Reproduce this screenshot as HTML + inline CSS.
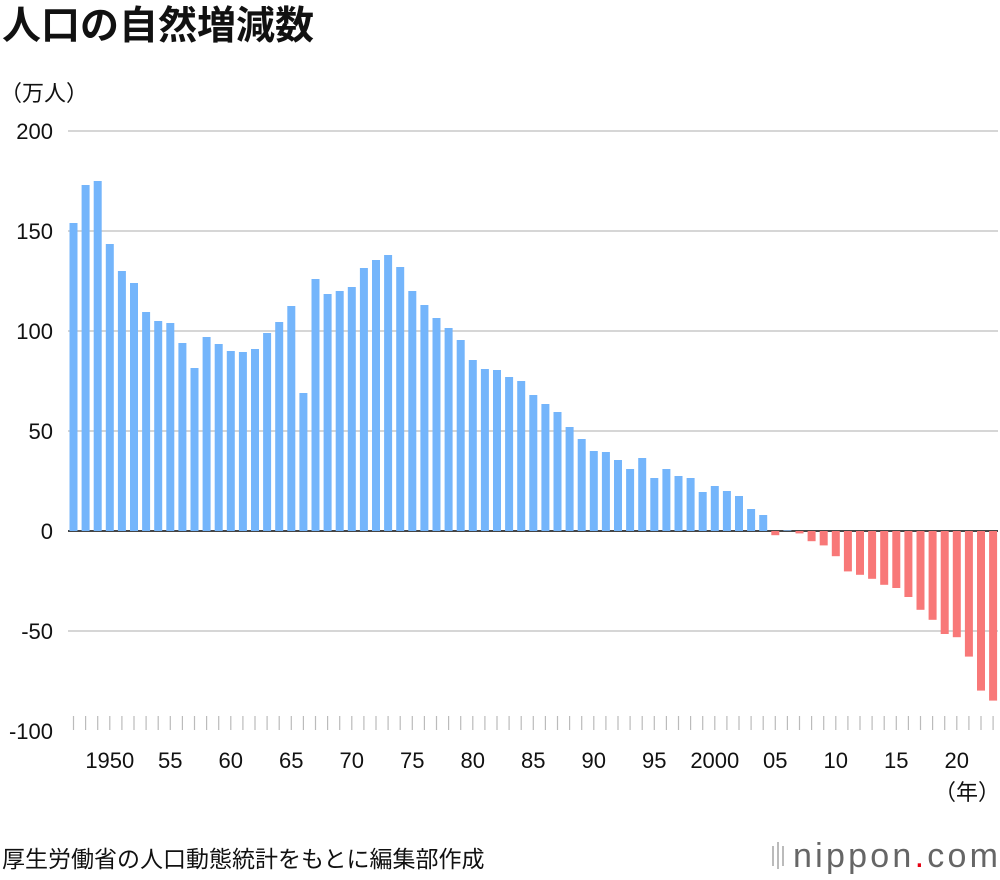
<!DOCTYPE html>
<html><head><meta charset="utf-8"><style>
body{margin:0;width:1000px;height:880px;background:#fff;font-family:"Liberation Sans","Noto Sans CJK JP",sans-serif;overflow:hidden}
</style></head><body>
<svg id="chart" width="1000" height="880" style="position:absolute;left:0;top:0">
<text x="2" y="39" font-size="39" font-weight="bold" fill="#111" font-family="Liberation Sans, Noto Sans CJK JP, sans-serif">人口の自然増減数</text>
<text x="0" y="101" font-size="22" fill="#111" font-family="Liberation Sans, Noto Sans CJK JP, sans-serif">（万人）</text>
<g id="grid"></g><g id="bars"></g><g id="ticks"></g>
<text x="1000" y="800" font-size="22" text-anchor="end" fill="#111" font-family="Liberation Sans, Noto Sans CJK JP, sans-serif">（年）</text>
<text x="2" y="867" font-size="23" fill="#111" font-family="Liberation Sans, Noto Sans CJK JP, sans-serif">厚生労働省の人口動態統計をもとに編集部作成</text>
<g>
<rect x="772" y="846" width="2" height="20" fill="#bbb"/><rect x="777" y="842" width="2" height="27" fill="#bbb"/><rect x="782" y="846" width="2" height="20" fill="#bbb"/>
<text x="793" y="867" font-size="34" fill="#666" font-family="Liberation Sans, sans-serif" textLength="205">nippon<tspan fill="#e60012">.</tspan>com</text>
</g>
</svg>
<script>
const years=[];for(let y=1947;y<=2023;y++)years.push(y);
const values=[154,173,175,143.5,130,124,109.5,105,104,94,81.5,97,93.5,90,89.5,91,99,104.5,112.5,69,126,118.5,120,122,131.5,135.5,138,132,120,113,106.5,101.5,95.5,85.5,81,80.5,77,75,68,63.5,59.5,52,46,40,39.5,35.5,31,36.5,26.5,31,27.5,26.5,19.5,22.5,20,17.5,11,8,-2.1,0.3,-1.2,-5.1,-7.2,-12.6,-20.2,-21.9,-23.9,-26.9,-28.5,-33,-39.4,-44.4,-51.5,-53.1,-62.8,-79.8,-84.8];
const yTicks=[200,150,100,50,0,-50,-100];
const xLabelYears=[1950,1955,1960,1965,1970,1975,1980,1985,1990,1995,2000,2005,2010,2015,2020];
const xLabelText=["1950","55","60","65","70","75","80","85","90","95","2000","05","10","15","20"];
const NS="http://www.w3.org/2000/svg";
const yS=v=>531-v*2;
const xS=yr=>73.5+(yr-1947)*12.1;
const grid=document.getElementById('grid'),bars=document.getElementById('bars'),ticks=document.getElementById('ticks');
function mk(tag,a,p){const e=document.createElementNS(NS,tag);for(const k in a)e.setAttribute(k,a[k]);p.appendChild(e);return e;}
yTicks.forEach(t=>{
 if(t>-100){const l=mk('line',{x1:68,x2:998,y1:yS(t),y2:yS(t),stroke:'#c8c8c8','stroke-width':1.5},grid);
 
 }
 const tx=mk('text',{x:53,y:yS(t)+8,'font-size':22,'text-anchor':'end',fill:'#111'},grid);tx.textContent=t;
 
 
});
years.forEach((yr,i)=>{
 const v=values[i];const y0=yS(Math.max(v,0)),h=Math.abs(v)*2;
 const r=mk('rect',{x:xS(yr)-4,y:y0,width:8,height:Math.max(h,0.5),fill:v>=0?'#74b5fb':'#f87878'},bars);
 
 
 const tk=mk('line',{x1:xS(yr),x2:xS(yr),y1:716,y2:730,stroke:'#bbb','stroke-width':1.2},ticks);
 
 
});
const zl=mk('line',{x1:68,x2:998,y1:531,y2:531,stroke:'#111','stroke-width':1.5},grid);


xLabelYears.forEach((yr,i)=>{
 const t=mk('text',{x:xS(yr),y:768,'font-size':22,'text-anchor':'middle',fill:'#111'},ticks);t.textContent=xLabelText[i];
 
 
});
</script>
</body></html>
